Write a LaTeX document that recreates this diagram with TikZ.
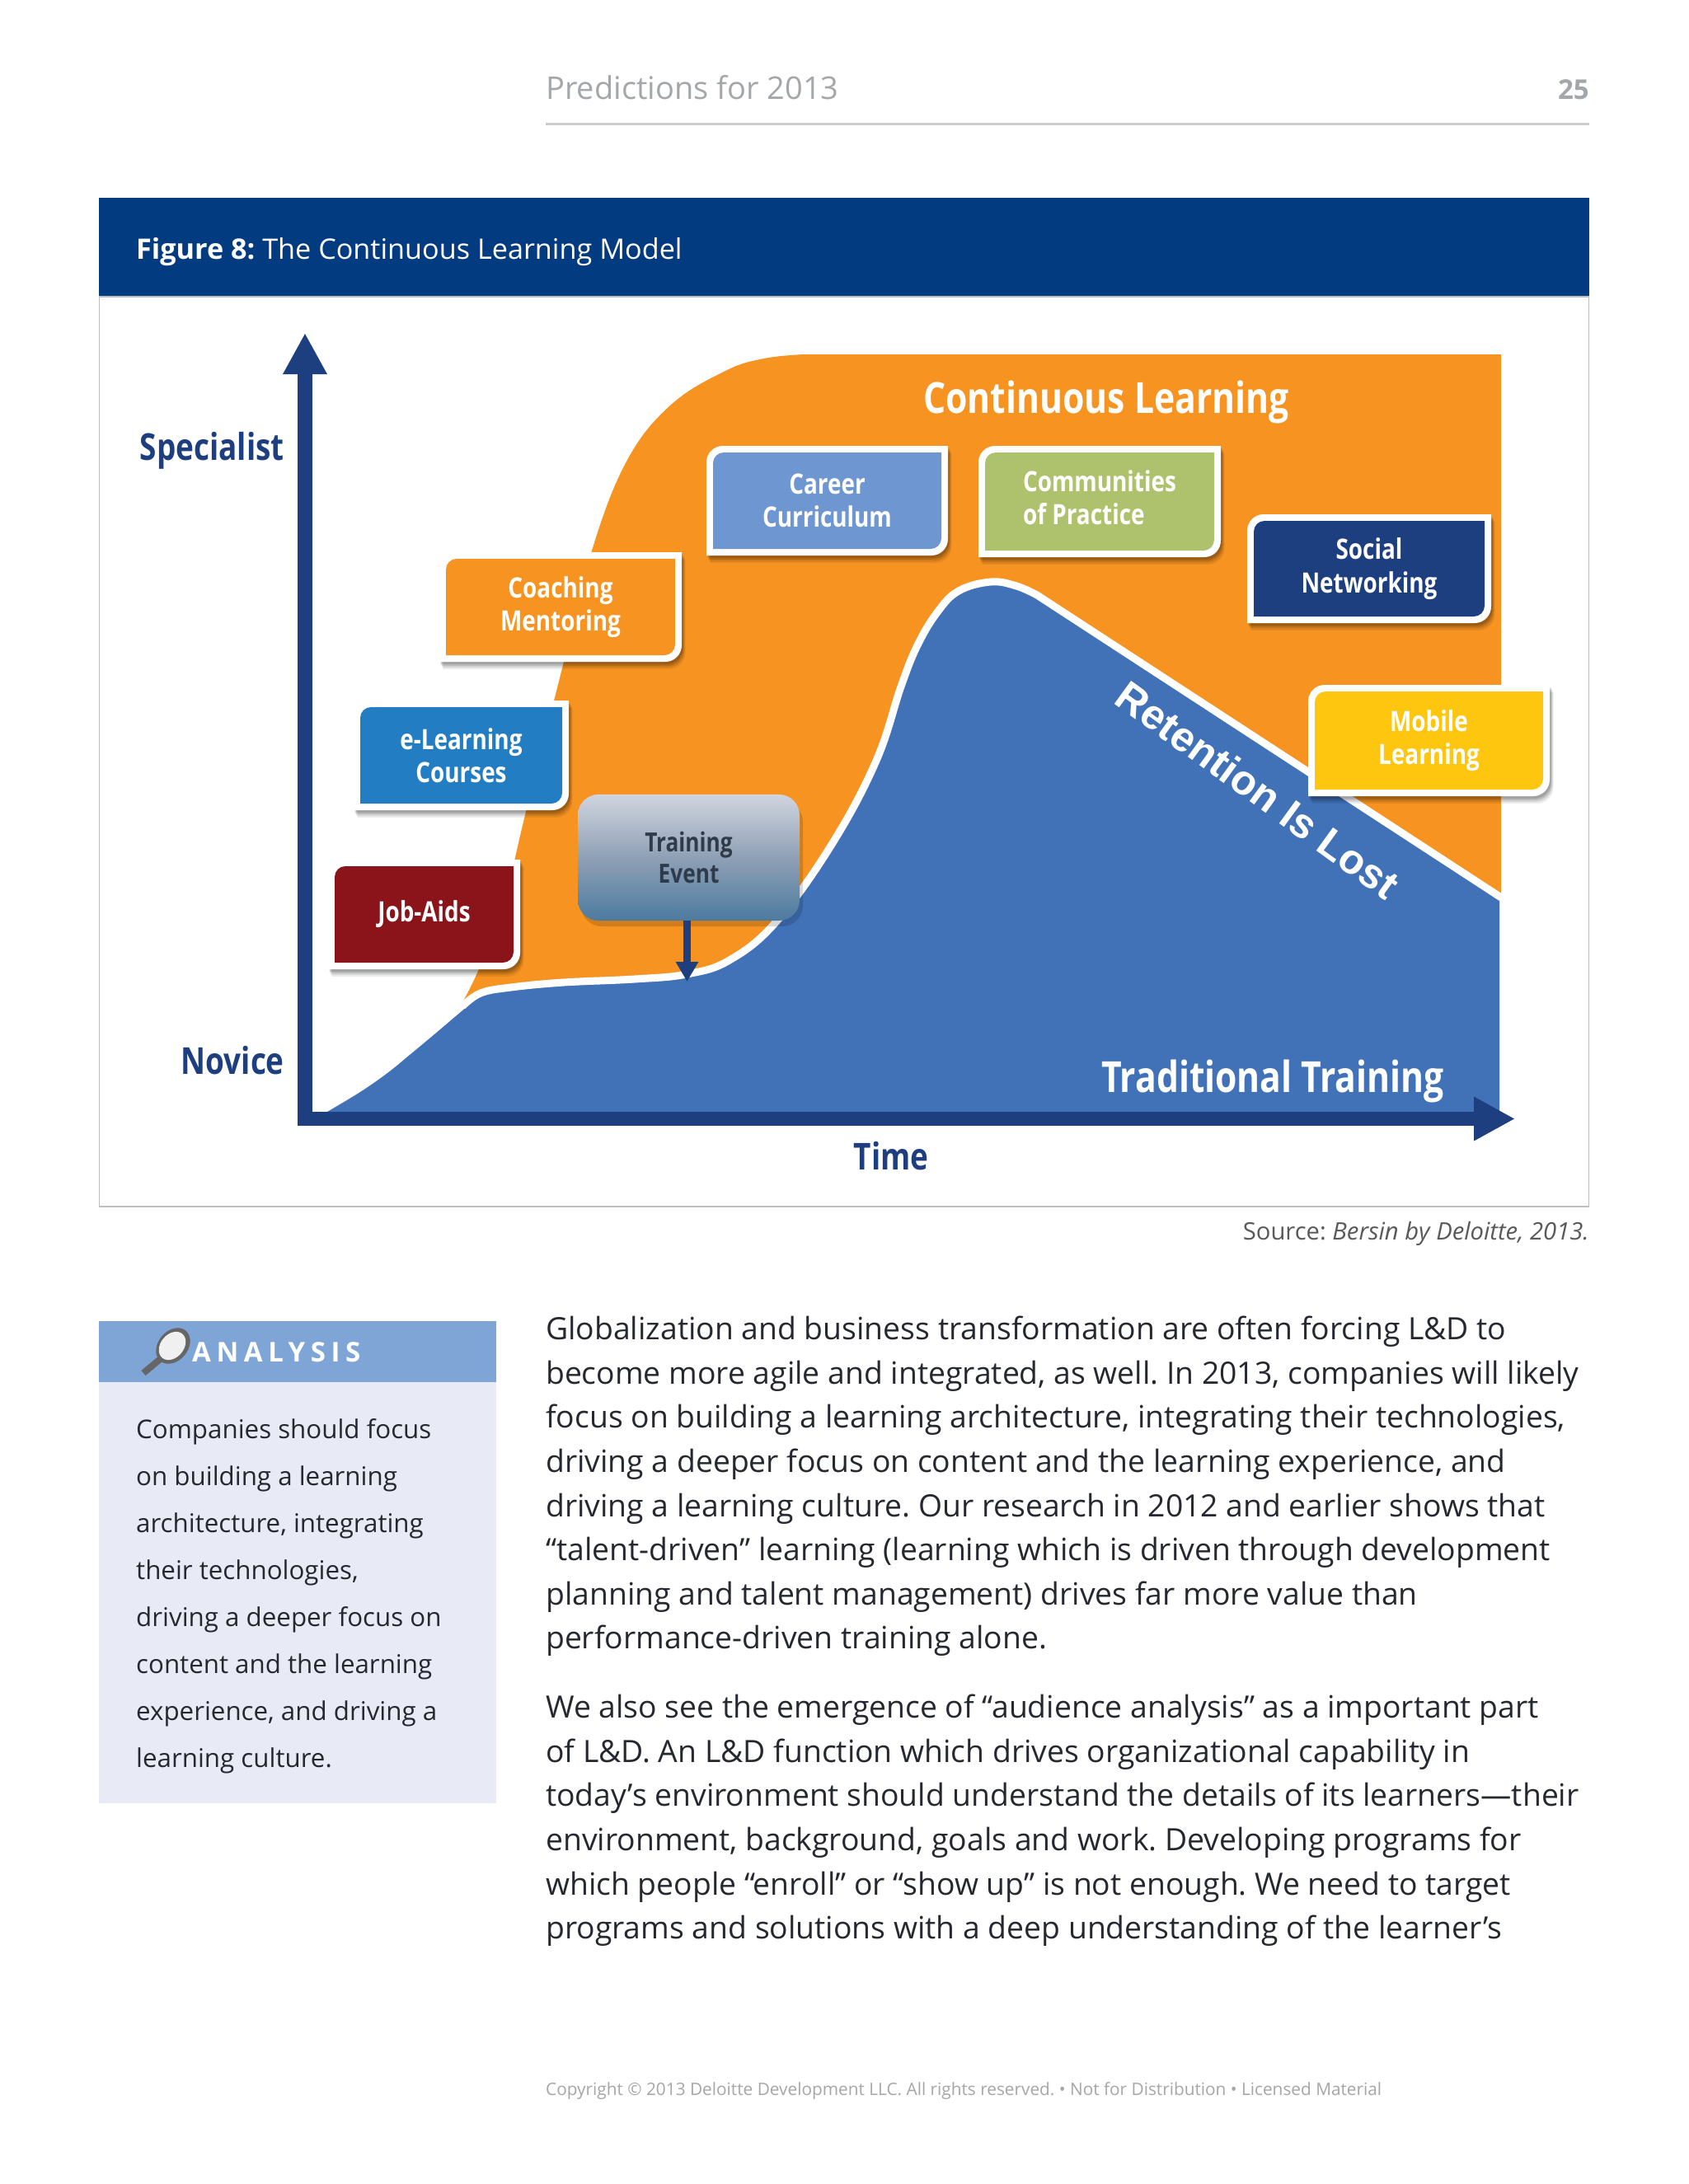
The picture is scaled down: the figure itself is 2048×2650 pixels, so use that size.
\documentclass[tikz,border=0pt]{standalone}
\usepackage{fontspec}
\usetikzlibrary{arrows.meta}
\setmainfont{Open Sans}
\newfontfamily\cond[FakeStretch=0.82]{Open Sans}
\newfontfamily\spaced[LetterSpace=20]{Open Sans}
\newfontfamily\retfont{Liberation Sans}
\definecolor{axisblue}{HTML}{1D3F80}
\definecolor{band}{HTML}{033B80}
\definecolor{orangefill}{HTML}{F79421}
\definecolor{bluefill}{HTML}{4172B8}
\definecolor{greytext}{HTML}{A4A7AA}
\definecolor{bodytext}{HTML}{25282E}
\definecolor{sidehead}{HTML}{7FA5D6}
\definecolor{sidebody}{HTML}{E8EBF6}
\definecolor{boxred}{HTML}{8B141B}
\definecolor{boxblue}{HTML}{237DC3}
\definecolor{boxcareer}{HTML}{6E96D1}
\definecolor{boxgreen}{HTML}{AEC26D}
\definecolor{boxyellow}{HTML}{FEC60F}
\definecolor{trainA}{HTML}{D0D5DF}
\definecolor{trainB}{HTML}{8FA0B5}
\definecolor{trainC}{HTML}{4C7BA0}
\definecolor{traintext}{HTML}{2F3B4A}
\newcommand{\fs}[1]{\fontsize{#1}{#1}\selectfont}
\newcommand{\bluetop}{(620,1198) (684,1192) (770,1188) (833,1182) (885,1165) (942,1118) (1010,1023) (1063,923) (1093,833) (1113,783) (1137,743) (1163,717) (1202,706) (1233,711) (1258,722)}
\tikzset{
  axisarrow/.style={draw=axisblue,line width=17.5pt,-{Triangle[length=50pt,width=50pt]}},
  boxlabel/.style={text=white,align=center,font={\cond\bfseries\fontsize{34}{40.5}\selectfont}},
  axislabel/.style={text=axisblue,font={\cond\bfseries\fs{45}}},
  titlelabel/.style={text=white,font={\cond\bfseries\fs{52}}},
  header/.style={text=greytext,font=\fs{38}},
  bodyblock/.style={anchor=north west,align=left,inner sep=0pt,text=bodytext,font={\fontsize{37.3}{53.6}\selectfont\frenchspacing}},
  sideblock/.style={anchor=north west,align=left,inner sep=0pt,text=bodytext,font={\fontsize{31.3}{57}\selectfont\frenchspacing}},
}
\newcommand{\flagbox}[7]{%
  \foreach \o/\w in {9/.07,7/.09,5/.12,3/.14}{%
    \fill[black,opacity=\w] ({#2+\o*.5},{#5+\o}) [rounded corners=20pt] -- ({#2+\o*.5},{#3+\o}) [sharp corners] -- ({#4+\o*.5},{#3+\o}) [rounded corners=20pt] -- ({#4+\o*.5},{#5+\o}) [sharp corners] -- cycle;}
  \fill[white] (#2,#5) [rounded corners=20pt] -- (#2,#3) [sharp corners] -- (#4,#3) [rounded corners=20pt] -- (#4,#5) [sharp corners] -- cycle;
  \fill[#6] ({#2+8},{#5-8}) [rounded corners=13pt] -- ({#2+8},{#3+8}) [sharp corners] -- ({#4-8},{#3+8}) [rounded corners=13pt] -- ({#4-8},{#5-8}) [sharp corners] -- cycle;
  \node[boxlabel] (#1) at ({(#2+#4)/2},{(#3+#5)/2}) {#7};
}
\begin{document}
\begin{tikzpicture}[x=1pt,y=-1pt]
\useasboundingbox (0,0) rectangle (2048,2650);
\fill[white] (0,0) rectangle (2048,2650);
% page header
\node[header,anchor=base west,inner sep=0pt] (pagetitle) at (662,120) {Predictions for 2013};
\node[anchor=base east,inner sep=0pt,text=greytext,font={\bfseries\fs{33}}] (pagenum) at (1928,120) {25};
\draw[line width=3pt,draw=black!20] (662,150) -- (1928,150);
% figure frame
\fill[band] (120,240) rectangle (1928,360);
\draw[line width=1.5pt,draw=black!25] (120.5,360) rectangle (1927.5,1464);
\node[anchor=base west,inner sep=0pt,text=white,font={\fs{34.2}\frenchspacing}] (figtitle) at (165,314) {\textbf{Figure 8:} The Continuous Learning Model};
% orange area
\fill[orangefill] plot[smooth,tension=.65] coordinates {(975,430) (927,435) (880,450) (813,492) (760,560) (718,668) (684,803) (638,985) (610,1100) (580,1178) (561,1216)}
  -- (1000,1300) -- (1821,1086) -- (1821,430) -- cycle;
% blue area
\path[fill=bluefill] plot[smooth,tension=.65] coordinates {(397,1349) (437,1325) (470,1302) (497,1280) (527,1255) (560,1227) (583,1208) \bluetop}
  -- (1819,1092) -- (1819,1352) -- (397,1352) -- cycle;
\draw[white,line width=9pt,line join=round] plot[smooth,tension=.65] coordinates {(561,1221) (583,1205) \bluetop} -- (1821,1089);
% axes
\coordinate (origin) at (361.5,1357.5);
\coordinate (ybase) at (370,1366);
\coordinate (ytop) at (370,404);
\coordinate (xend) at (1838,1357.5);
\draw[axisarrow] (ybase) -- (ytop);
\draw[axisarrow] (origin) -- (xend);
% region and axis labels
\node[titlelabel] (contlearn) at (1342,488) {Continuous Learning};
\node[titlelabel] (tradtrain) at (1544,1312) {Traditional Training};
\node[axislabel,anchor=east,inner sep=0pt] (specialist) at (345,547) {Specialist};
\node[axislabel,anchor=east,inner sep=0pt] (novice) at (345,1287) {Novice};
\node[axislabel] (time) at (1081,1403) {Time};
\node[text=white,rotate=-36,font={\retfont\bfseries\fs{50.5}}] (retention) at (1526,958) {Retention Is Lost};
% boxes
\flagbox{jobaids}{398}{1043}{631}{1176}{boxred}{Job-Aids}
\flagbox{elearning}{429}{850}{690}{983}{boxblue}{e-Learning\\Courses}
\flagbox{coaching}{533}{670}{827}{803}{orangefill}{Coaching\\Mentoring}
\flagbox{career}{857}{541}{1150}{674}{boxcareer}{Career\\Curriculum}
\flagbox{communities}{1187}{541}{1481}{676}{boxgreen}{\begin{tabular}{@{}l@{}}Communities\\of Practice\end{tabular}}
\flagbox{social}{1513}{624}{1809}{756}{axisblue}{Social\\Networking}
\flagbox{mobile}{1587}{831}{1880}{966}{boxyellow}{Mobile\\Learning}
% training event
\fill[black,opacity=.15,rounded corners=25pt] (705,972) rectangle (974,1124);
\node[rounded corners=25pt,minimum width=269pt,minimum height=153pt,inner sep=0pt,top color=trainA,bottom color=trainC,middle color=trainB,text=traintext,align=center,font={\cond\bfseries\fontsize{32}{38}\selectfont}] (training) at (835.5,1040.5) {Training\\Event};
\coordinate (trainhit) at (833.5,1191);
\draw[draw=axisblue,line width=9pt,-{Triangle[length=24pt,width=26pt]}] (training.south -| trainhit) -- (trainhit);
% source
\node[anchor=base east,inner sep=0pt,text=black!65,font={\fs{29.2}\frenchspacing}] (source) at (1928,1504) {Source: \textit{Bersin by Deloitte, 2013.}};
% sidebar
\fill[sidebody] (120,1677) rectangle (602,2188);
\fill[sidehead] (120,1603) rectangle (602,1677);
\draw[draw=black!60,line width=8pt] (174,1666) -- (198,1646);
\fill[black!60,shift={(210,1633)},rotate=50] (0,0) ellipse (24 and 18);
\fill[black!6,shift={(209,1633)},rotate=50] (0,0) ellipse (19 and 14);
\node[anchor=base west,inner sep=0pt,text=white,font={\spaced\bfseries\fs{33}}] (analysis) at (233,1652) {ANALYSIS};
\node[sideblock] (sidetext) at (165,1721) {Companies should focus\\on building a learning\\architecture, integrating\\their technologies,\\driving a deeper focus on\\content and the learning\\experience, and driving a\\learning culture.};
% body
\node[bodyblock] (bodyone) at (662,1597) {Globalization and business transformation are often forcing L\&D to\\become more agile and integrated, as well. In 2013, companies will likely\\focus on building a learning architecture, integrating their technologies,\\driving a deeper focus on content and the learning experience, and\\driving a learning culture. Our research in 2012 and earlier shows that\\“talent-driven” learning (learning which is driven through development\\planning and talent management) drives far more value than\\performance-driven training alone.};
\node[bodyblock] (bodytwo) at (662,2056) {We also see the emergence of “audience analysis” as a important part\\of L\&D. An L\&D function which drives organizational capability in\\today’s environment should understand the details of its learners—their\\environment, background, goals and work. Developing programs for\\which people “enroll” or “show up” is not enough. We need to target\\programs and solutions with a deep understanding of the learner’s};
% footer
\node[anchor=base west,inner sep=0pt,text=black!35,font={\fs{20.8}\frenchspacing}] (footer) at (662,2542) {Copyright © 2013 Deloitte Development LLC. All rights reserved. • Not for Distribution • Licensed Material};
\end{tikzpicture}
\end{document}
